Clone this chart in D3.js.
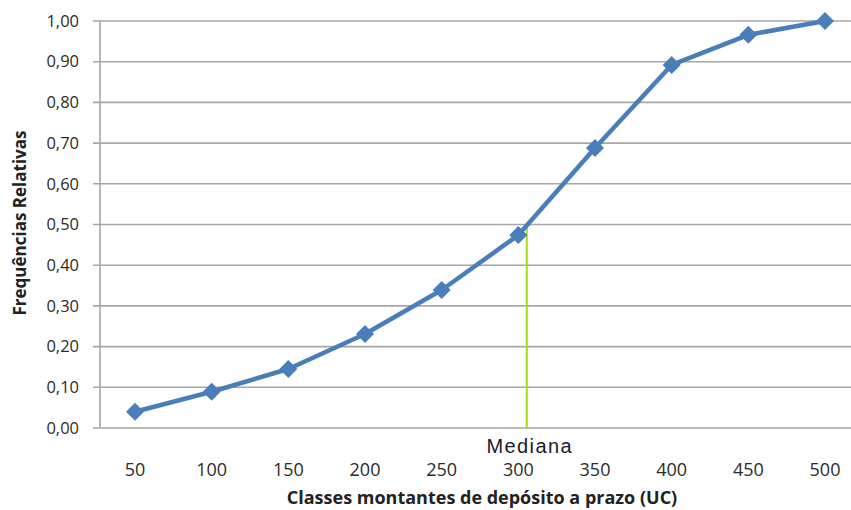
<!DOCTYPE html>
<html><head><meta charset="utf-8">
<script src="https://cdn.jsdelivr.net/npm/d3@7"></script>
<style>body{margin:0;background:#fff}svg{display:block}</style>
</head><body>
<svg id="c" width="851" height="510"></svg>
<script>
const categories = [50,100,150,200,250,300,350,400,450,500];
const values = [0.040,0.089,0.145,0.231,0.339,0.474,0.688,0.892,0.966,1.000];
const yTicks = [0,0.1,0.2,0.3,0.4,0.5,0.6,0.7,0.8,0.9,1.0];
const medianClass = 305.5;
const medianFreq = 0.5;

const svg = d3.select("#c");
const x = d3.scaleLinear().domain([50,500]).range([135,825]);
const y = d3.scaleLinear().domain([0,1]).range([428,21]);
const left = 100, right = 851;
const fmt = d => d.toFixed(2).replace(".", ",");
const font = "'Open Sans', 'Liberation Sans', sans-serif";

// gridlines
svg.append("g").selectAll("line").data(yTicks).join("line")
  .attr("x1", 93).attr("x2", right)
  .attr("y1", d => y(d)).attr("y2", d => y(d))
  .attr("stroke", "#a6a6a6").attr("stroke-width", 1.6);
// y axis line
svg.append("line").attr("x1", left).attr("x2", left).attr("y1", y(1)).attr("y2", y(0))
  .attr("stroke", "#a6a6a6").attr("stroke-width", 1.6);

// y labels
svg.append("g").selectAll("text").data(yTicks).join("text")
  .attr("x", 79).attr("y", d => y(d)).attr("dy", "0.35em")
  .attr("text-anchor", "end")
  .attr("font-family", font)
  .attr("font-size", 16.5).attr("fill", "#2b2b2b")
  .text(fmt);

// x labels
svg.append("g").selectAll("text").data(categories).join("text")
  .attr("x", d => x(d)).attr("y", 470).attr("dy", "0.35em")
  .attr("text-anchor", "middle")
  .attr("font-family", font)
  .attr("font-size", 18).attr("fill", "#2b2b2b")
  .text(d => d);

// median line
svg.append("line")
  .attr("x1", x(medianClass)).attr("x2", x(medianClass))
  .attr("y1", y(medianFreq)).attr("y2", y(0))
  .attr("stroke", "#a8d820").attr("stroke-width", 2);

// series line
svg.append("path").datum(categories.map((c,i)=>[c, values[i]]))
  .attr("d", d3.line().x(d => x(d[0])).y(d => y(d[1])))
  .attr("fill", "none").attr("stroke", "#4a7ebb").attr("stroke-width", 4.5)
  .attr("stroke-linejoin", "round");

// markers
svg.append("g").selectAll("path").data(categories.map((c,i)=>[c, values[i]])).join("path")
  .attr("transform", d => `translate(${x(d[0])},${y(d[1])})`)
  .attr("d", "M0,-9L9,0L0,9L-9,0Z")
  .attr("fill", "#4a7ebb");

// Mediana label
svg.append("text").attr("x", x(medianClass) + 3).attr("y", 453)
  .attr("text-anchor", "middle")
  .attr("font-family", "'Liberation Sans', Arial, sans-serif")
  .attr("font-size", 20).attr("letter-spacing", 1.4).attr("fill", "#1a1a2e")
  .text("Mediana");

// axis titles
svg.append("text").attr("x", 482).attr("y", 504)
  .attr("text-anchor", "middle")
  .attr("font-family", font)
  .attr("font-weight", "bold").attr("font-size", 18).attr("fill", "#222")
  .text("Classes montantes de depósito a prazo (UC)");
svg.append("text")
  .attr("transform", "translate(26,223) rotate(-90)")
  .attr("text-anchor", "middle")
  .attr("font-family", font)
  .attr("font-weight", "bold").attr("font-size", 17).attr("fill", "#222")
  .text("Frequências Relativas");
</script>
</body></html>
